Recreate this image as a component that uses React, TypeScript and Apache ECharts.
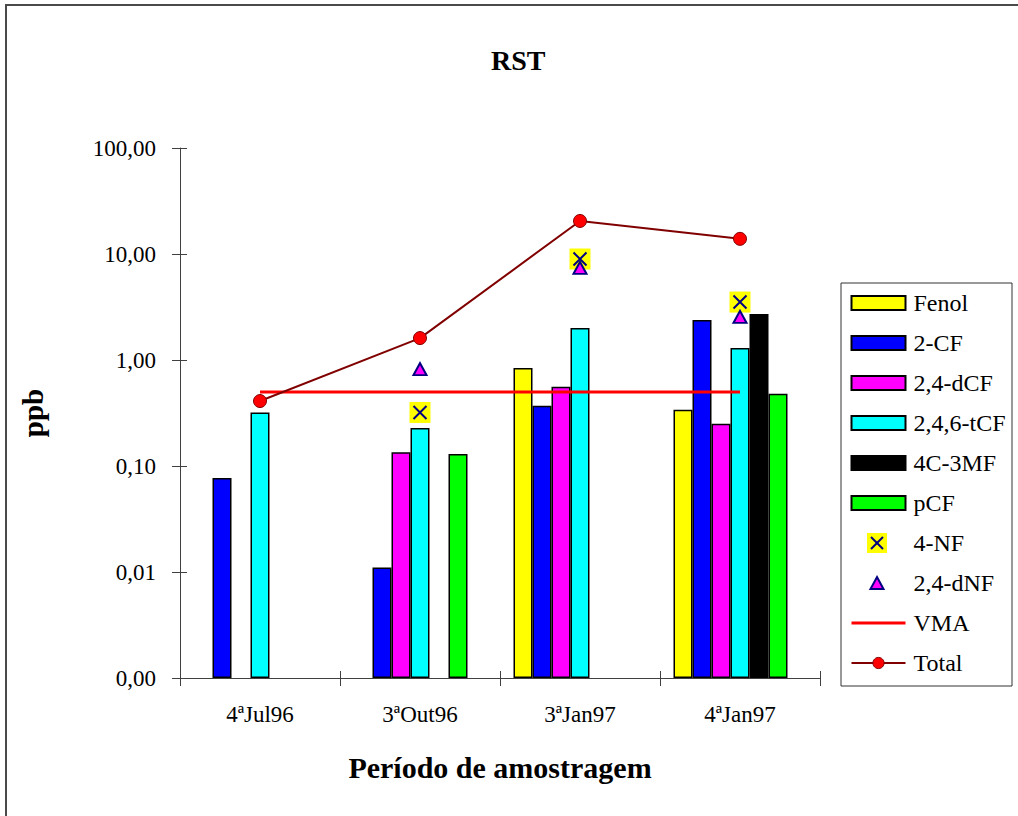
import React, { useEffect, useRef } from 'react';
import * as echarts from 'echarts';

const categories = ['4ªJul96', '3ªOut96', '3ªJan97', '4ªJan97'];
const fenol = [null, null, 0.84, 0.34];
const cf2 = [0.077, 0.011, 0.37, 2.38];
const dcf24 = [null, 0.135, 0.56, 0.25];
const tcf246 = [0.32, 0.228, 2.0, 1.3];
const c4mf3 = [null, null, null, 2.72];
const pcf = [null, 0.13, null, 0.48];
const nf4 = [null, 0.32, 8.97, 3.52];
const dnf24 = [null, 0.82, 7.4, 2.55];
const vma = [0.5, 0.5, 0.5, 0.5];
const total = [0.41, 1.61, 20.5, 13.9];

const barSeriesDefs = [
  { name: 'Fenol', data: fenol, color: '#ffff00' },
  { name: '2-CF', data: cf2, color: '#0000ff' },
  { name: '2,4-dCF', data: dcf24, color: '#ff00ff' },
  { name: '2,4,6-tCF', data: tcf246, color: '#00ffff' },
  { name: '4C-3MF', data: c4mf3, color: '#000000' },
  { name: 'pCF', data: pcf, color: '#00ff00' },
];

const FONT = 'Liberation Serif';

export default function App() {
  const ref = useRef<HTMLDivElement>(null);
  useEffect(() => {
    document.body.style.margin = '0';
    const chart = echarts.init(ref.current!, undefined, { renderer: 'svg' });
    const fmt = (v: number) => v.toFixed(2).replace('.', ',');
    const axisColor = '#404040';
    const legendTop = 291;
    const step = 40;
    const iconCx = 877;
    const nfCy = legendTop + 6 * step + 12;
    const dnfCy = legendTop + 7 * step + 12;

    const bars = barSeriesDefs.map((d) => ({
      name: d.name,
      type: 'bar',
      data: d.data,
      barWidth: 19,
      barGap: '0%',
      itemStyle: { color: d.color, borderColor: '#000', borderWidth: 1.5 },
      z: 2,
    }));

    const option: any = {
      animation: false,
      textStyle: { fontFamily: FONT },
      title: {
        text: 'RST',
        left: 491,
        top: 46,
        padding: 0,
        textStyle: { fontFamily: FONT, fontSize: 28, fontWeight: 'bold', color: '#000' },
      },
      legend: {
        orient: 'vertical',
        left: 850,
        top: legendTop,
        padding: 0,
        itemWidth: 54,
        itemHeight: 14,
        itemGap: 16,
        textStyle: { fontFamily: FONT, fontSize: 24, lineHeight: 24, color: '#000', padding: [0, 0, 0, 3] },
        data: [
          ...barSeriesDefs.map((d) => ({ name: d.name, icon: 'rect' })),
          { name: '4-NF', icon: 'none' },
          { name: '2,4-dNF', icon: 'none' },
          {
            name: 'VMA',
            itemStyle: { color: 'rgba(0,0,0,0)', borderColor: 'rgba(0,0,0,0)', borderWidth: 0 },
            lineStyle: { color: '#ff0000', width: 3 },
          },
          {
            name: 'Total',
            lineStyle: { color: '#800000', width: 2 },
            itemStyle: { color: '#ff0000', borderColor: '#800000', borderWidth: 1 },
          },
        ],
      },
      grid: [
        { left: 180, right: 198, top: 148, bottom: 138 },
        { left: 180, right: 198, top: 148, bottom: 138 },
      ],
      xAxis: [
        {
          gridIndex: 0,
          type: 'category',
          data: categories,
          axisLine: { show: true, lineStyle: { color: axisColor, width: 1 } },
          axisTick: { show: true, inside: false, length: 8, lineStyle: { color: axisColor } },
          axisLabel: { fontFamily: FONT, fontSize: 23, color: '#000', margin: 25 },
          name: 'Período de amostragem',
          nameLocation: 'middle',
          nameGap: 74,
          nameTextStyle: { fontFamily: FONT, fontSize: 30, fontWeight: 'bold', color: '#000' },
        },
        {
          gridIndex: 1,
          type: 'category',
          data: categories,
          axisLine: { show: false },
          axisTick: { show: true, inside: true, length: 7, lineStyle: { color: axisColor } },
          axisLabel: { show: false },
        },
      ],
      yAxis: [
        {
          gridIndex: 0,
          type: 'log',
          logBase: 10,
          min: 0.001,
          max: 100,
          startValue: 0.001,
          axisLine: { show: true, lineStyle: { color: axisColor, width: 1 } },
          axisTick: { show: true, inside: false, length: 8, lineStyle: { color: axisColor } },
          splitLine: { show: false },
          axisLabel: { fontFamily: FONT, fontSize: 23, color: '#000', margin: 24, formatter: fmt },
          name: 'ppb',
          nameLocation: 'middle',
          nameGap: 133,
          nameRotate: 90,
          nameTextStyle: { fontFamily: FONT, fontSize: 29, fontWeight: 'bold', color: '#000' },
        },
        {
          gridIndex: 1,
          type: 'log',
          logBase: 10,
          min: 0.001,
          max: 100,
          axisLine: { show: false },
          axisTick: { show: true, inside: true, length: 7, lineStyle: { color: axisColor } },
          splitLine: { show: false },
          axisLabel: { show: false },
        },
      ],
      series: [
        ...bars,
        {
          name: '',
          type: 'bar',
          data: [null, null, null, null],
          barWidth: 19,
          barGap: '0%',
        },
        {
          name: 'VMA',
          type: 'line',
          data: vma,
          symbol: 'none',
          lineStyle: { color: '#ff0000', width: 3 },
          itemStyle: { color: '#ff0000' },
          z: 3,
        },
        {
          name: 'Total',
          type: 'line',
          data: total,
          symbol: 'circle',
          symbolSize: 13,
          lineStyle: { color: '#800000', width: 2 },
          itemStyle: { color: '#ff0000', borderColor: '#800000', borderWidth: 1 },
          z: 4,
        },
        {
          name: '4-NF',
          type: 'scatter',
          data: nf4,
          symbol: 'rect',
          symbolSize: 21,
          itemStyle: { color: '#ffff00', opacity: 1 },
          z: 5,
        },
        {
          name: '4-NF',
          type: 'scatter',
          data: nf4,
          symbol: 'path://M0,0L12,12M12,0L0,12',
          symbolSize: 13,
          itemStyle: { color: 'rgba(0,0,0,0)', borderColor: '#000080', borderWidth: 2, opacity: 1 },
          z: 6,
        },
        {
          name: '2,4-dNF',
          type: 'scatter',
          data: dnf24,
          symbol: 'triangle',
          symbolSize: [13, 12],
          itemStyle: { color: '#ff00ff', borderColor: '#000080', borderWidth: 2, opacity: 1 },
          z: 7,
        },
      ],
      graphic: [
        {
          type: 'rect',
          shape: { x: 6, y: 5, width: 1040, height: 840 },
          style: { fill: 'none', stroke: '#4a4a4a', lineWidth: 2 },
          silent: true,
        },
        {
          type: 'rect',
          shape: { x: 841, y: 283, width: 171, height: 403 },
          style: { fill: 'none', stroke: '#333', lineWidth: 1 },
          silent: true,
        },
        {
          type: 'rect',
          shape: { x: iconCx - 10, y: nfCy - 10, width: 20, height: 20 },
          style: { fill: '#ffff00' },
          silent: true,
        },
        {
          type: 'line',
          shape: { x1: iconCx - 6, y1: nfCy - 6, x2: iconCx + 6, y2: nfCy + 6 },
          style: { stroke: '#000080', lineWidth: 2 },
          silent: true,
        },
        {
          type: 'line',
          shape: { x1: iconCx + 6, y1: nfCy - 6, x2: iconCx - 6, y2: nfCy + 6 },
          style: { stroke: '#000080', lineWidth: 2 },
          silent: true,
        },
        {
          type: 'polygon',
          shape: { points: [[iconCx, dnfCy - 6], [iconCx + 6.5, dnfCy + 6], [iconCx - 6.5, dnfCy + 6]] },
          style: { fill: '#ff00ff', stroke: '#000080', lineWidth: 2 },
          silent: true,
        },
      ],
    };
    chart.setOption(option);
    return () => chart.dispose();
  }, []);
  return <div ref={ref} style={{ width: 1018, height: 816, overflow: 'hidden' }} />;
}
